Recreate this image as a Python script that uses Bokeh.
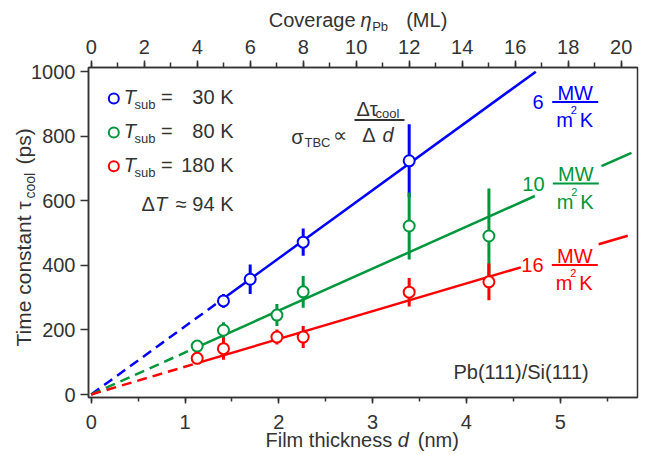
import math
from bokeh.plotting import figure
from bokeh.models import Range1d, LinearAxis, SingleIntervalTicker, Label, ColumnDataSource, GridBox
from bokeh.embed import file_html
from bokeh.resources import INLINE

# ---------------- data ----------------
blue_d = [1.41, 1.695, 2.26, 3.39]
blue_tau = [290, 357, 472, 724]
blue_err = [21, 46, 42, 113]

green_d = [1.13, 1.41, 1.98, 2.26, 3.39, 4.24]
green_tau = [150, 199, 246, 318, 522, 491]
green_err = [15, 25, 34, 49, 104, 147]

red_d = [1.13, 1.41, 1.98, 2.26, 3.39, 4.24]
red_tau = [112, 142, 178, 178, 317, 349]
red_err = [9, 34, 23, 34, 44, 57]

fit_slopes = [211, 130, 86]          # ps per nm
fit_dash_end = [1.41, 1.13, 1.13]    # nm
fit_solid = [[(1.41, 4.74)], [(1.13, 4.73), (5.44, 5.76)], [(1.13, 4.58), (5.41, 5.72)]]
conductances = ["6", "10", "16"]
temps = ["30 K", "80 K", "180 K"]
nm_per_ml = 0.2825

colors = ["#0000FF", "#00963C", "#FF0000"]
TXT = "#333333"
FONT = "Liberation Sans"

# ---------------- layout helpers (page pixel -> data) ----------------
X0, SX = 91.7, 93.8
Y0, SY = 395.3, 0.3228
def dx(px): return (px - X0) / SX
def dy(py): return (Y0 - py) / SY

x_start, x_end = dx(89), dx(638)
y_start, y_end = dy(398.3), dy(68.3)

W, H = 641, 452
p = figure(frame_width=549, frame_height=330, output_backend="svg", toolbar_location=None,
           x_range=Range1d(x_start, x_end), y_range=Range1d(y_start, y_end),
           min_border_left=88, min_border_right=4, min_border_top=67, min_border_bottom=55,
           background_fill_color="white", border_fill_color="white")
p.xgrid.visible = False
p.ygrid.visible = False
p.outline_line_color = TXT
p.outline_line_width = 1.5

def style_axis(ax, tick_out, minor_out, standoff):
    ax.axis_line_color = TXT
    ax.axis_line_width = 1.5
    ax.major_tick_line_color = TXT
    ax.major_tick_line_width = 1.5
    ax.minor_tick_line_color = TXT
    ax.minor_tick_line_width = 1.5
    ax.major_tick_in = 0
    ax.major_tick_out = tick_out
    ax.minor_tick_in = 0
    ax.minor_tick_out = minor_out
    ax.major_label_text_font = FONT
    ax.major_label_text_font_size = "20px"
    ax.major_label_text_color = TXT
    ax.major_label_standoff = standoff

p.xaxis.ticker = SingleIntervalTicker(interval=1, num_minor_ticks=2)
style_axis(p.xaxis[0], 6, 4, 11)
p.yaxis.ticker = SingleIntervalTicker(interval=200, num_minor_ticks=0)
style_axis(p.yaxis[0], 8, 0, 5)

p.extra_x_ranges = {"ml": Range1d(x_start / nm_per_ml, x_end / nm_per_ml)}
top = LinearAxis(x_range_name="ml", ticker=SingleIntervalTicker(interval=2, num_minor_ticks=2))
style_axis(top, 7, 5, 7)
p.add_layout(top, "above")

# ---------------- data marks ----------------
series = [(blue_d, blue_tau, blue_err), (green_d, green_tau, green_err), (red_d, red_tau, red_err)]
for i, (d, tau, err) in enumerate(series):
    c = colors[i]
    s = fit_slopes[i]
    e = fit_dash_end[i]
    p.line([0, e], [0, s * e], line_color=c, line_width=2.5, line_dash="10 6")
    for (a, b) in fit_solid[i]:
        p.line([a, b], [s * a, s * b], line_color=c, line_width=2.5)
    src = ColumnDataSource(dict(d=d, tau=tau,
                                lo=[t - r for t, r in zip(tau, err)],
                                hi=[t + r for t, r in zip(tau, err)]))
    p.segment(x0="d", y0="lo", x1="d", y1="hi", source=src, line_color=c, line_width=3)
    p.scatter(x="d", y="tau", source=src, marker="circle", size=11,
              fill_color="white", line_color=c, line_width=2)

# ---------------- text helpers ----------------
CAPC = 0.358  # half cap height / font size

def txt(s, px, py, size=20, color=TXT, align="left", italic=False):
    """in-frame text; (px, py) = left/right x and baseline y in page pixels"""
    p.add_layout(Label(x=dx(px), y=dy(py - CAPC * size), text=s, text_font=FONT,
                       text_font_size=f"{size}px", text_color=color, text_align=align,
                       text_baseline="alphabetic",
                       text_font_style="italic" if italic else "normal"))

# transparent overlay figure covering the whole canvas, for the axis titles
OFF = 1.0
q = figure(frame_width=W, frame_height=H, output_backend="svg", toolbar_location=None,
           x_range=Range1d(0, W), y_range=Range1d(H, 0),
           x_axis_location=None, y_axis_location=None,
           min_border=0, min_border_left=0, min_border_right=0, min_border_top=0, min_border_bottom=0,
           background_fill_color=None, border_fill_color=None, outline_line_color=None)
q.xgrid.visible = False
q.ygrid.visible = False
for fig in (p, q):
    try:
        fig.frame_align = False
    except Exception:
        pass

def otxt(s, px, py, size=20, align="left", italic=False, rotated=False):
    if rotated:
        ax, ay, ang = px - CAPC * size, py, math.pi / 2
    else:
        ax, ay, ang = px, py - CAPC * size, 0.0
    q.add_layout(Label(x=ax - OFF, y=ay - OFF, text=s, text_font=FONT, angle=ang,
                       text_font_size=f"{size}px", text_color=TXT, text_align=align,
                       text_baseline="alphabetic",
                       text_font_style="italic" if italic else "normal"))

otxt("Film thickness", 266, 447.5, 20)
otxt("d", 398.3, 447.5, 20, italic=True)
otxt("(nm)", 418.3, 447.5, 20)

otxt("Coverage", 356, 27.7, 20, align="right")
otxt("η", 361, 27.7, 20, italic=True)
otxt("Pb", 372.7, 32, 13)
otxt("(ML)", 406.7, 27.7, 20)

otxt("Time constant τ", 31.7, 347, 21, rotated=True)
otxt("cool", 36, 199, 14, rotated=True)
otxt("(ps)", 31.7, 165, 21, rotated=True)

# legend
row_base = [105, 139, 172.7]
p.scatter(x=[dx(114.3)] * 3, y=[dy(b - 5.7) for b in row_base], marker="circle", size=10,
          fill_color="white", line_color=colors, line_width=2)
for b, t in zip(row_base, temps):
    txt("T", 124.3, b, 20, italic=True)
    txt("sub", 135, b + 5, 13)
    txt("=", 161.5, b, 20)
    txt(t, 234, b, 20, align="right")
txt("Δ", 142, 211.7, 20)
txt("T", 155.4, 211.7, 20, italic=True)
txt("≈ 94 K", 234, 211.7, 20, align="right")

# sigma formula
txt("σ", 291.7, 145, 20)
txt("TBC", 305, 147.5, 13)
txt("∝", 333.5, 143, 20)
txt("Δτ", 357, 116.7, 20)
txt("cool", 376, 119, 13)
txt("Δ", 362.7, 143.3, 20)
txt("d", 383, 143.3, 20, italic=True)

# conductance labels
groups = [(544, 552.7, 102.7), (545, 553.3, 184.3), (544, 552.3, 265.7)]
bar_x0, bar_x1, bar_y = [355], [405], [120.7]
bar_c = [TXT]
for i, (nx, bx, yb) in enumerate(groups):
    c = colors[i]
    txt(conductances[i], nx, yb + 7.3, 20, color=c, align="right")
    txt("MW", bx + 23, yb - 2, 20, color=c, align="center")
    txt("m", bx + 4, yb + 25.6, 20, color=c)
    txt("2", bx + 18.5, yb + 12, 11, color=c)
    txt("K", bx + 27.5, yb + 25.6, 20, color=c)
    bar_x0.append(bx); bar_x1.append(bx + 46); bar_y.append(yb); bar_c.append(c)
p.segment(x0=[dx(v) for v in bar_x0], x1=[dx(v) for v in bar_x1],
          y0=[dy(v) for v in bar_y], y1=[dy(v) for v in bar_y],
          line_color=bar_c, line_width=2)

txt("Pb(111)/Si(111)", 454, 379.5, 20)

layout = GridBox(children=[(p, 0, 0), (q, 0, 0)])
open("out.html", "w").write(file_html(layout, INLINE))
